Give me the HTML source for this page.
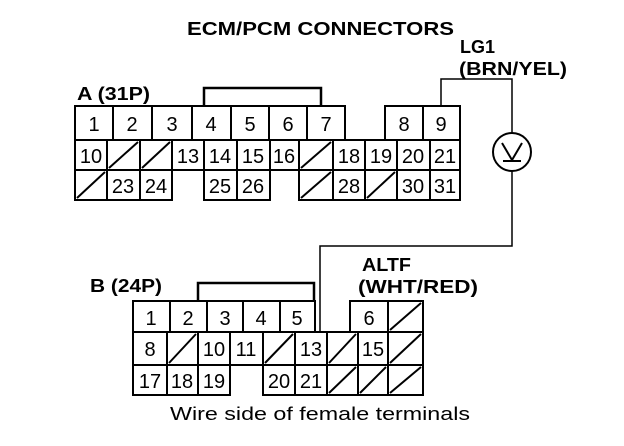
<!DOCTYPE html>
<html><head><style>
html,body{margin:0;padding:0;background:#fff;}
svg{display:block;}
text{font-family:"Liberation Sans",sans-serif;fill:#000;}
.b{font-weight:bold;font-size:18px;}
.n{font-size:20px;text-anchor:middle;}
</style></head><body>
<svg width="624" height="446" viewBox="0 0 624 446" xmlns="http://www.w3.org/2000/svg">
<g fill="none" stroke="#000">
<polyline points="204,106 204,88 321,88 321,106" stroke-width="2.5"/>
<polyline points="441,106 441,79 512,79 512,133" stroke-width="1.5"/>
<circle cx="512" cy="152" r="19" stroke-width="2"/>
<polyline points="502,143 512,160 522,143" stroke-width="2"/>
<line x1="503" y1="161" x2="521" y2="161" stroke-width="2"/>
<polyline points="512,171 512,246 320,246 320,332" stroke-width="1.5"/>
<polyline points="198,301 198,283 314,283 314,301" stroke-width="2.5"/>
</g>
<g fill="none" stroke="#000" stroke-width="2">
<rect x="75" y="106" width="38" height="34"/><rect x="113" y="106" width="39" height="34"/><rect x="152" y="106" width="40" height="34"/><rect x="192" y="106" width="39" height="34"/><rect x="231" y="106" width="38" height="34"/><rect x="269" y="106" width="38" height="34"/><rect x="307" y="106" width="38" height="34"/>
<rect x="385" y="106" width="38" height="34"/><rect x="423" y="106" width="37" height="34"/>
<rect x="75" y="140" width="32" height="30"/><rect x="107" y="140" width="33" height="30"/><rect x="140" y="140" width="32" height="30"/><rect x="172" y="140" width="32" height="30"/><rect x="204" y="140" width="33" height="30"/><rect x="237" y="140" width="33" height="30"/><rect x="270" y="140" width="29" height="30"/><rect x="299" y="140" width="34" height="30"/><rect x="333" y="140" width="32" height="30"/><rect x="365" y="140" width="32" height="30"/><rect x="397" y="140" width="33" height="30"/><rect x="430" y="140" width="30" height="30"/>
<rect x="75" y="170" width="32" height="30"/><rect x="107" y="170" width="33" height="30"/><rect x="140" y="170" width="32" height="30"/>
<rect x="204" y="170" width="33" height="30"/><rect x="237" y="170" width="33" height="30"/>
<rect x="299" y="170" width="34" height="30"/><rect x="333" y="170" width="32" height="30"/><rect x="365" y="170" width="32" height="30"/><rect x="397" y="170" width="33" height="30"/><rect x="430" y="170" width="30" height="30"/>
<line x1="109" y1="168" x2="138" y2="142"/><line x1="142" y1="168" x2="170" y2="142"/><line x1="301" y1="168" x2="331" y2="142"/>
<line x1="77" y1="198" x2="105" y2="172"/><line x1="301" y1="198" x2="331" y2="172"/><line x1="367" y1="198" x2="395" y2="172"/>
<rect x="133" y="301" width="37" height="31"/><rect x="170" y="301" width="37" height="31"/><rect x="207" y="301" width="36" height="31"/><rect x="243" y="301" width="37" height="31"/><rect x="280" y="301" width="35" height="31"/>
<rect x="350" y="301" width="38" height="31"/><rect x="388" y="301" width="35" height="31"/>
<rect x="133" y="332" width="34" height="33"/><rect x="167" y="332" width="31" height="33"/><rect x="198" y="332" width="32" height="33"/><rect x="230" y="332" width="33" height="33"/><rect x="263" y="332" width="32" height="33"/><rect x="295" y="332" width="32" height="33"/><rect x="327" y="332" width="31" height="33"/><rect x="358" y="332" width="30" height="33"/><rect x="388" y="332" width="35" height="33"/>
<rect x="133" y="365" width="34" height="30"/><rect x="167" y="365" width="31" height="30"/><rect x="198" y="365" width="32" height="30"/>
<rect x="263" y="365" width="32" height="30"/><rect x="295" y="365" width="32" height="30"/><rect x="327" y="365" width="31" height="30"/><rect x="358" y="365" width="30" height="30"/><rect x="388" y="365" width="35" height="30"/>
<line x1="390" y1="330" x2="421" y2="303"/>
<line x1="169" y1="363" x2="196" y2="334"/><line x1="265" y1="363" x2="293" y2="334"/><line x1="329" y1="363" x2="356" y2="334"/><line x1="390" y1="363" x2="421" y2="334"/>
<line x1="329" y1="393" x2="356" y2="367"/><line x1="360" y1="393" x2="386" y2="367"/><line x1="390" y1="393" x2="421" y2="367"/>
</g>
<text class="b" x="187" y="35" textLength="267" lengthAdjust="spacingAndGlyphs">ECM/PCM CONNECTORS</text>
<text class="b" x="460" y="53" textLength="35" lengthAdjust="spacingAndGlyphs">LG1</text>
<text class="b" x="459" y="75" textLength="108" lengthAdjust="spacingAndGlyphs">(BRN/YEL)</text>
<text class="b" x="77" y="100" textLength="73" lengthAdjust="spacingAndGlyphs">A (31P)</text>
<text class="b" x="90" y="292" textLength="72" lengthAdjust="spacingAndGlyphs">B (24P)</text>
<text class="b" x="362" y="271" textLength="49" lengthAdjust="spacingAndGlyphs">ALTF</text>
<text class="b" x="358" y="293" textLength="120" lengthAdjust="spacingAndGlyphs">(WHT/RED)</text>
<g>
<text class="n" x="94" y="131">1</text><text class="n" x="132" y="131">2</text><text class="n" x="172" y="131">3</text><text class="n" x="211" y="131">4</text><text class="n" x="250" y="131">5</text><text class="n" x="288" y="131">6</text><text class="n" x="326" y="131">7</text><text class="n" x="404" y="131">8</text><text class="n" x="441" y="131">9</text>
<text class="n" x="91" y="163">10</text><text class="n" x="188" y="163">13</text><text class="n" x="220" y="163">14</text><text class="n" x="253" y="163">15</text><text class="n" x="284" y="163">16</text><text class="n" x="349" y="163">18</text><text class="n" x="381" y="163">19</text><text class="n" x="413" y="163">20</text><text class="n" x="445" y="163">21</text>
<text class="n" x="123" y="193">23</text><text class="n" x="156" y="193">24</text><text class="n" x="220" y="193">25</text><text class="n" x="253" y="193">26</text><text class="n" x="349" y="193">28</text><text class="n" x="413" y="193">30</text><text class="n" x="445" y="193">31</text>
<text class="n" x="151" y="325">1</text><text class="n" x="188" y="325">2</text><text class="n" x="225" y="325">3</text><text class="n" x="261" y="325">4</text><text class="n" x="297" y="325">5</text><text class="n" x="369" y="325">6</text>
<text class="n" x="150" y="356">8</text><text class="n" x="214" y="356">10</text><text class="n" x="246" y="356">11</text><text class="n" x="311" y="356">13</text><text class="n" x="373" y="356">15</text>
<text class="n" x="150" y="388">17</text><text class="n" x="182" y="388">18</text><text class="n" x="214" y="388">19</text><text class="n" x="279" y="388">20</text><text class="n" x="311" y="388">21</text>
</g>
<text x="170" y="420" style="font-size:18px" textLength="300" lengthAdjust="spacingAndGlyphs">Wire side of female terminals</text>
</svg>
</body></html>
